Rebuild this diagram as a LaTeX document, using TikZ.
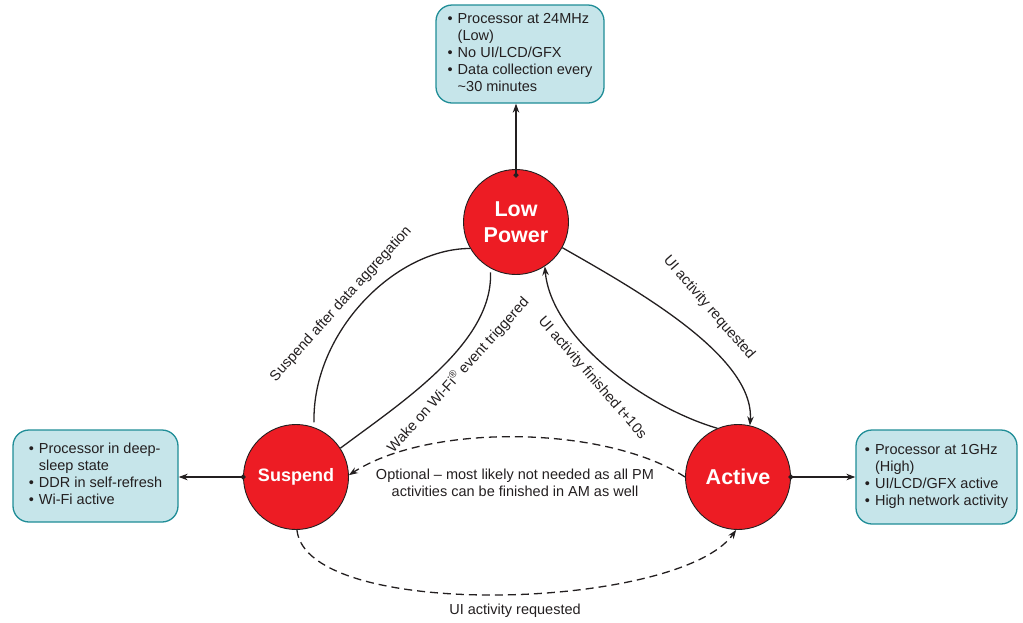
\documentclass[tikz,border=0pt]{standalone}
\usepackage{fontspec}
\setmainfont{Liberation Sans}
\usetikzlibrary{arrows.meta}

\definecolor{statered}{HTML}{ED1C24}
\definecolor{boxfill}{HTML}{C6E5EA}
\definecolor{boxline}{HTML}{1F8D97}
\definecolor{inkgray}{HTML}{231F20}

\tikzset{
  state/.style={circle, draw=inkgray, line width=0.9pt, fill=statered, minimum size=105pt,
    inner sep=0pt, text=white, align=center},
  info/.style={draw=boxline, line width=1.3pt, fill=boxfill, rounded corners=16pt,
    text=inkgray, font=\fontsize{14.5}{17}\selectfont, inner sep=0pt},
  lbl/.style={text=inkgray, font=\fontsize{14.5}{17}\selectfont, inner sep=0pt, align=center},
  trans/.style={draw=inkgray, line width=1.3pt, -{Stealth[length=9pt,width=6.5pt]}},
  link/.style={trans, {Circle[length=5pt]}-{Stealth[length=9pt,width=6.5pt]}, shorten <=-2.5pt},
  optional/.style={trans, dash pattern=on 8pt off 5pt},
}

\begin{document}
\begin{tikzpicture}[x=1pt,y=-1pt]
  \useasboundingbox (0,0) rectangle (1023,622);

  % power states
  \node[state, font=\bfseries\fontsize{21.5}{26}\selectfont] (lp) at (516,222) {Low\\Power};
  \node[state, font=\bfseries\fontsize{18}{22}\selectfont] (sus) at (296,477) {Suspend};
  \node[state, font=\bfseries\fontsize{21.5}{26}\selectfont] (act) at (738,477) {Active};

  % what each state means
  \node[info, minimum width=168pt, minimum height=98pt] (lpinfo) at (520,54) {%
    \begin{tabular}{@{}l@{\hspace{5pt}}l@{}}
      \textbullet & Processor at 24MHz\\
                  & (Low)\\
      \textbullet & No UI/LCD/GFX\\
      \textbullet & Data collection every\\
                  & \textasciitilde 30 minutes
    \end{tabular}};
  \node[info, minimum width=165pt, minimum height=92pt] (susinfo) at (95.5,476) {%
    \begin{tabular}{@{}l@{\hspace{5pt}}l@{}}
      \textbullet & Processor in deep-\\
                  & sleep state\\
      \textbullet & DDR in self-refresh\\
      \textbullet & Wi-Fi active
    \end{tabular}};
  \node[info, minimum width=161pt, minimum height=94pt] (actinfo) at (936.5,477) {%
    \begin{tabular}{@{}l@{\hspace{5pt}}l@{}}
      \textbullet & Processor at 1GHz\\
                  & (High)\\
      \textbullet & UI/LCD/GFX active\\
      \textbullet & High network activity
    \end{tabular}};

  \draw[link] ([yshift=-6pt]lp.north) -- (lp.north |- lpinfo.south);
  \draw[link] (sus.west) -- (sus.west -| susinfo.east);
  \draw[link] (act.east) -- (act.east -| actinfo.west);

  % transitions
  \draw[trans, -, shorten >=5pt] (lp.210) .. controls +(-75,0) and +(-2,-95) .. (sus.70);
  \draw[trans, -, shorten >=4pt] (sus.33) .. controls +(60,-45) and +(3,75) .. (lp.241);
  \draw[trans] (lp.331) .. controls +(70,40) and +(5,-70) .. (act.77);
  \draw[trans] (act.113) .. controls +(-75,-22) and +(6,70) .. (lp.303);
  \draw[optional] (act.180) .. controls +(-80,-52) and +(80,-52) .. (sus.2);
  \draw[optional] (sus.271) .. controls +(10,92) and +(-57,80) .. (act.268);

  % transition labels
  \node[lbl, rotate=48] (suslbl) at (341,304) {Suspend after data aggregation};
  \node[lbl, rotate=48] (wakelbl) at (458,375) {Wake on Wi-Fi\textsuperscript{®} event triggered};
  \node[lbl, rotate=-49] (reqlbl) at (709,308) {UI activity requested};
  \node[lbl, rotate=-49] (donelbl) at (592,378) {UI activity finished t+10s};
  \node[lbl] (optlbl) at (515,483) {Optional – most likely not needed as all PM\\activities can be finished in AM as well};
  \node[lbl] (reqlbl2) at (515,611) {UI activity requested};
\end{tikzpicture}
\end{document}
